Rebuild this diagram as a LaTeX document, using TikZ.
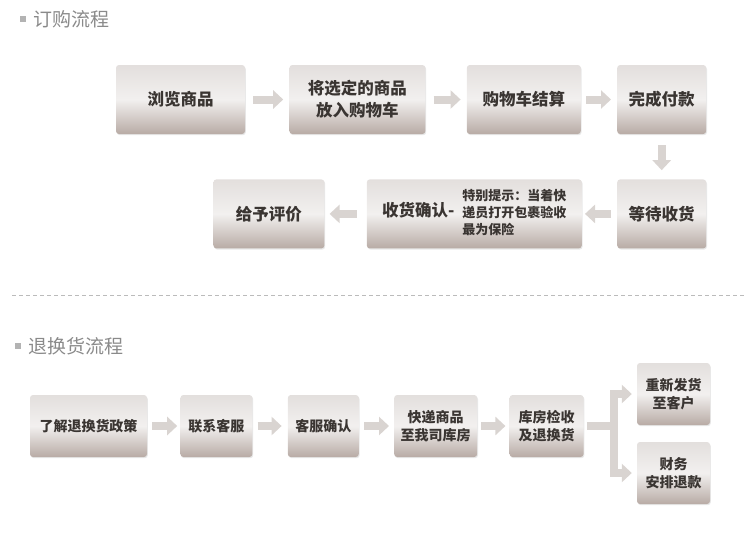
\documentclass[tikz,border=0pt]{standalone}
\usepackage{fontspec}
\setmainfont{Noto Sans CJK SC}
\usepackage{tikz}
\usetikzlibrary{arrows.meta,positioning,shadows}
\usepackage{xcolor}
\definecolor{boxtop}{HTML}{E3DFDD}
\definecolor{boxmid}{HTML}{F2F0EF}
\definecolor{boxbot}{HTML}{B8ABA5}
\definecolor{boxtext}{HTML}{3A3532}
\definecolor{arrowgray}{HTML}{D9D4D1}
\definecolor{titlegray}{HTML}{8A8A8A}
\definecolor{dotgray}{HTML}{B3B3B3}
\definecolor{sepgray}{HTML}{BBBBBB}

\begin{document}
\begin{tikzpicture}[
    x=1pt, y=1pt,
    box/.style={rounded corners=3pt, minimum height=69pt, align=center, inner sep=2pt,
                top color=boxtop, bottom color=boxbot, middle color=boxmid,
                drop shadow={opacity=.18, shadow xshift=.8pt, shadow yshift=-1.2pt},
                text=boxtext, font=\fontsize{16.5}{22}\selectfont\bfseries},
    minibox/.style={box, minimum height=62pt, font=\fontsize{14}{18}\selectfont\bfseries},
    arr/.style={-{Triangle[length=10pt,width=18pt]}, line width=8pt, draw=arrowgray,
                shorten <=8pt, shorten >=6pt},
    bar/.style={line width=8pt, draw=arrowgray},
    heading/.style={anchor=west, inner sep=0pt, text=titlegray, font=\fontsize{19}{22}\selectfont},
    dot/.style={fill=dotgray, minimum size=5.5pt, inner sep=0pt}
  ]
  \useasboundingbox (0,0) rectangle (756,-555);

  % ordering
  \node[heading] (ordertitle) at (33,-19) {订购流程};
  \node[dot, left=7pt of ordertitle] (orderdot) {};

  \node[box, minimum width=129pt] (browse) at (180.5,-99.5) {浏览商品};
  \node[box, minimum width=136pt, right=44pt of browse] (cart) {将选定的商品\\放入购物车};
  \node[box, minimum width=114pt, right=41pt of cart] (settle) {购物车结算};
  \node[box, minimum width=89pt, right=36pt of settle] (pay) {完成付款};
  \node[box, minimum width=89pt, below=45pt of pay] (wait) {等待收货};
  \node[box, minimum width=215pt, left=35pt of wait] (confirm)
    {收货确认-\hspace{8pt}{\fontsize{13}{16.8}\selectfont
     \begin{tabular}{@{}l@{}}特别提示：当着快\\递员打开包裹验收\\最为保险\end{tabular}}};
  \node[box, minimum width=111pt, left=42pt of confirm] (review) {给予评价};

  \draw[arr] (browse) -- (cart);
  \draw[arr] (cart) -- (settle);
  \draw[arr, shorten <=5pt] (settle) -- (pay);
  \draw[arr, shorten <=11pt, shorten >=9pt] (pay) -- (wait);
  \draw[arr, shorten <=6pt, shorten >=3pt] (wait) -- (confirm);
  \draw[arr, shorten <=10pt, shorten >=5pt] (confirm) -- (review);

  \coordinate (sepL) at (12,-295);
  \coordinate (sepR) at (745,-295);
  \draw[sepgray, line width=.8pt, dash pattern=on 4pt off 3pt] (sepL) -- (sepR);

  % returns
  \node[heading] (returntitle) at (28,-346) {退换货流程};
  \node[dot, left=7pt of returntitle] (returndot) {};

  \node[minibox, minimum width=117pt] (policy) at (88.5,-426) {了解退换货政策};
  \node[minibox, minimum width=72pt, right=33pt of policy] (contact) {联系客服};
  \node[minibox, minimum width=71pt, right=35pt of contact] (service) {客服确认};
  \node[minibox, minimum width=83pt, right=35pt of service] (ship) {快递商品\\至我司库房};
  \node[minibox, minimum width=74pt, right=32pt of ship] (inspect) {库房检收\\及退换货};
  \node[minibox, minimum width=73pt] (resend) at (673.5,-394) {重新发货\\至客户};
  \node[minibox, minimum width=73pt] (refund) at (673.5,-473) {财务\\安排退款};

  \draw[arr, shorten <=5pt, shorten >=3pt] (policy) -- (contact);
  \draw[arr, shorten <=5pt, shorten >=6pt] (contact) -- (service);
  \draw[arr, shorten <=5pt, shorten >=5pt] (service) -- (ship);
  \draw[arr, shorten <=4pt, shorten >=4pt] (ship) -- (inspect);

  \coordinate[right=30pt of inspect] (fork);
  \draw[bar, shorten <=3pt] (inspect) -- (fork);
  \draw[arr, shorten <=0pt, shorten >=5pt] (fork) |- (resend);
  \draw[arr, shorten <=0pt, shorten >=5pt] (fork) |- (refund);
\end{tikzpicture}
\end{document}
